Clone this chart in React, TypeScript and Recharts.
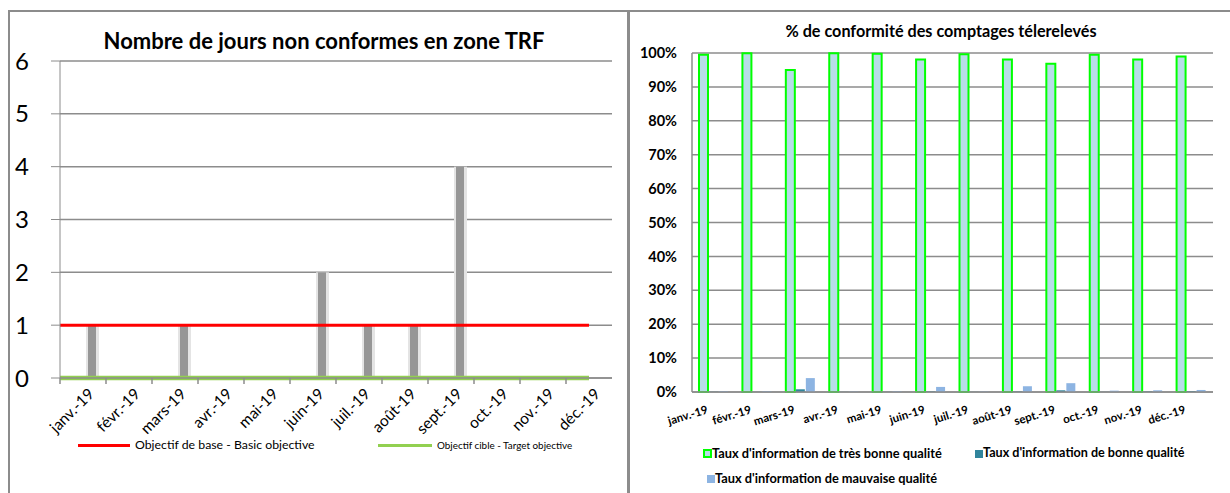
import React from "react";
import {
  ComposedChart,
  Bar,
  Line,
  XAxis,
  YAxis,
  CartesianGrid,
} from "recharts";

const months = [
  "janv.-19",
  "févr.-19",
  "mars-19",
  "avr.-19",
  "mai-19",
  "juin-19",
  "juil.-19",
  "août-19",
  "sept.-19",
  "oct.-19",
  "nov.-19",
  "déc.-19",
];

// left chart: non-compliant days in the TRF zone
const joursNonConformes = [1, 0, 1, 0, 0, 2, 1, 1, 4, 0, 0, 0];
const objectifBase = [1, 1, 1, 1, 1, 1, 1, 1, 1, 1, 1, 1];
const objectifCible = [0, 0, 0, 0, 0, 0, 0, 0, 0, 0, 0, 0];
const leftTicks = [0, 1, 2, 3, 4, 5, 6];

// right chart: remote reading quality (%)
const tresBonne = [99.5, 99.9, 95.0, 99.9, 99.8, 98.1, 99.6, 98.1, 96.8, 99.5, 98.1, 99.0];
const bonne = [0.1, 0.05, 0.8, 0.05, 0.05, 0.2, 0.05, 0.2, 0.5, 0.05, 0.2, 0.3];
const mauvaise = [0.3, 0.3, 4.1, 0.2, 0.3, 1.5, 0.2, 1.7, 2.6, 0.4, 0.5, 0.6];
const rightTicks = [0, 10, 20, 30, 40, 50, 60, 70, 80, 90, 100];

const leftData = months.map((mois, i) => ({
  mois,
  jours: joursNonConformes[i],
  base: objectifBase[i],
  cible: objectifCible[i],
}));

const rightData = months.map((mois, i) => ({
  mois,
  tresBonne: tresBonne[i],
  bonne: bonne[i],
  mauvaise: mauvaise[i],
}));

const FONT = "Lato, 'Open Sans', sans-serif";
const GRID = "#8c8c8c";
const LEFT_BAND = 46; // (612 - 60) / 12
const BAR_SHIFT = 9;

const LeftTick = (props: any) => {
  const { x, y, payload } = props;
  const ax = x + 12;
  const ay = y + 17;
  return (
    <g>
      <line x1={x - LEFT_BAND / 2} x2={x - LEFT_BAND / 2} y1={y} y2={y + 6} stroke={GRID} strokeWidth={1.5} />
      <text
        x={ax}
        y={ay}
        textAnchor="end"
        fontSize={15.5}
        fontFamily={FONT}
        fill="#000"
        transform={`rotate(-45, ${ax}, ${ay})`}
      >
        {payload.value}
      </text>
    </g>
  );
};

const RightTick = (props: any) => {
  const { x, y, payload } = props;
  const ax = x - 5;
  const ay = y + 21;
  return (
    <text
      x={ax}
      y={ay}
      textAnchor="end"
      fontSize={11.5}
      fontWeight="bold"
      fontFamily={FONT}
      fill="#000"
      transform={`rotate(-17, ${ax}, ${ay})`}
    >
      {payload.value}
    </text>
  );
};

const ShadowBar = (props: any) => {
  const { x, y, width, height } = props;
  if (!height) return <g />;
  const sx = x + BAR_SHIFT;
  return (
    <g>
      <rect x={sx - 2} y={y} width={width + 5} height={height} fill="#e4e4e4" />
      <rect x={sx} y={y} width={width} height={height} fill="#969696" />
    </g>
  );
};

function LeftChart() {
  return (
    <div style={{ position: "absolute", left: 0, top: 0 }}>
      <ComposedChart
        width={628}
        height={493}
        data={leftData}
        margin={{ top: 61, right: 16, left: 0, bottom: 45 }}
      >
        <CartesianGrid xAxisId="bars" vertical={false} stroke={GRID} strokeWidth={1.5} />
        <XAxis
          xAxisId="bars"
          dataKey="mois"
          height={70}
          interval={0}
          tick={<LeftTick />}
          tickLine={false}
          tickSize={0}
          tickMargin={0}
          axisLine={{ stroke: GRID, strokeWidth: 1.5 }}
        />
        <XAxis xAxisId="obj" dataKey="mois" hide scale="point" padding={{ left: 0, right: 23 }} />
        <YAxis
          domain={[0, 6]}
          ticks={leftTicks}
          interval={0}
          width={60}
          tickSize={9}
          tickMargin={22}
          stroke={GRID}
          tick={{ fontSize: 24, fill: "#000", fontFamily: FONT }}
        />
        <Bar xAxisId="bars" dataKey="jours" barSize={8} shape={<ShadowBar />} isAnimationActive={false} />
        <Line
          xAxisId="obj"
          dataKey="base"
          stroke="#ff0000"
          strokeWidth={3}
          dot={false}
          isAnimationActive={false}
        />
        <Line
          xAxisId="obj"
          dataKey="cible"
          stroke="#92d050"
          strokeWidth={4.5}
          dot={false}
          isAnimationActive={false}
        />
      </ComposedChart>
      <div
        style={{
          position: "absolute",
          left: 0,
          width: 648,
          top: 27,
          textAlign: "center",
          fontFamily: FONT,
          fontWeight: "bold",
          fontSize: 22,
        }}
      >
        Nombre de jours non conformes en zone TRF
      </div>
      <div style={{ position: "absolute", left: 78, top: 444, width: 52, height: 3, background: "#ff0000" }} />
      <div style={{ position: "absolute", left: 135, top: 437, fontFamily: FONT, fontSize: 12.3 }}>
        Objectif de base - Basic objective
      </div>
      <div style={{ position: "absolute", left: 378, top: 444, width: 54, height: 3, background: "#92d050" }} />
      <div style={{ position: "absolute", left: 437, top: 439, fontFamily: FONT, fontSize: 9.9 }}>
        Objectif cible - Target objective
      </div>
    </div>
  );
}

function RightChart() {
  return (
    <div style={{ position: "absolute", left: 628, top: 0 }}>
      <ComposedChart
        width={602}
        height={493}
        data={rightData}
        margin={{ top: 53, right: 17, left: 0, bottom: 71 }}
        barGap={1}
      >
        <CartesianGrid vertical={false} stroke={GRID} strokeWidth={1.5} />
        <XAxis
          dataKey="mois"
          height={30}
          interval={0}
          tick={<RightTick />}
          tickLine={false}
          tickSize={0}
          tickMargin={0}
          axisLine={{ stroke: GRID, strokeWidth: 1.5 }}
        />
        <YAxis
          domain={[0, 100]}
          ticks={rightTicks}
          interval={0}
          width={64}
          tickLine={false}
          tickSize={0}
          tickMargin={15}
          tickFormatter={(v) => `${v}%`}
          axisLine={{ stroke: GRID, strokeWidth: 1.5 }}
          tick={{ fontSize: 14.5, fontWeight: "bold", fill: "#000", fontFamily: FONT }}
        />
        <Bar
          dataKey="tresBonne"
          barSize={9}
          fill="#b7dde8"
          stroke="#00ff00"
          strokeWidth={2}
          isAnimationActive={false}
        />
        <Bar dataKey="bonne" barSize={9} fill="#31859c" isAnimationActive={false} />
        <Bar dataKey="mauvaise" barSize={9} fill="#8db4e2" isAnimationActive={false} />
      </ComposedChart>
      <div
        style={{
          position: "absolute",
          left: 13,
          width: 600,
          top: 21,
          textAlign: "center",
          fontFamily: FONT,
          fontWeight: "bold",
          fontSize: 16.2,
        }}
      >
        % de conformité des comptages télerelevés
      </div>
      <div style={{ position: "absolute", left: 75, top: 449, width: 5, height: 5, border: "2px solid #00ff00", background: "#b7dde8" }} />
      <div style={{ position: "absolute", left: 84, top: 445, fontFamily: FONT, fontWeight: "bold", fontSize: 12.8 }}>
        Taux d'information de très bonne qualité
      </div>
      <div style={{ position: "absolute", left: 347, top: 450, width: 8, height: 8, background: "#31859c" }} />
      <div style={{ position: "absolute", left: 355, top: 445, fontFamily: FONT, fontWeight: "bold", fontSize: 12.6 }}>
        Taux d'information de bonne qualité
      </div>
      <div style={{ position: "absolute", left: 79, top: 475, width: 8, height: 8, background: "#8db4e2" }} />
      <div style={{ position: "absolute", left: 87, top: 470, fontFamily: FONT, fontWeight: "bold", fontSize: 12.8 }}>
        Taux d'information de mauvaise qualité
      </div>
    </div>
  );
}

export default function App() {
  return (
    <div style={{ position: "absolute", left: 0, top: 0, width: 1230, height: 493, background: "#fff", overflow: "hidden" }}>
      <LeftChart />
      <RightChart />
      <div style={{ position: "absolute", left: 8, top: 10, width: 1222, height: 2, background: GRID }} />
      <div style={{ position: "absolute", left: 8, top: 10, width: 2, height: 483, background: GRID }} />
      <div style={{ position: "absolute", left: 627, top: 10, width: 3, height: 483, background: GRID }} />
    </div>
  );
}
